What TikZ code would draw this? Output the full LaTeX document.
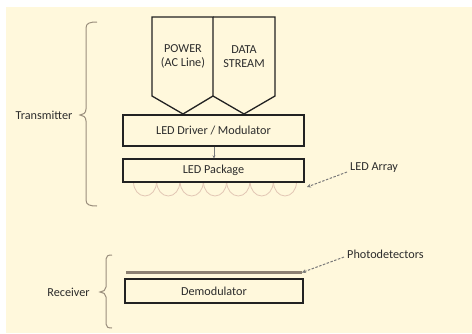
\documentclass[tikz,border=0pt]{standalone}
\usepackage{fontspec}
\setmainfont{Carlito}
\usetikzlibrary{arrows.meta}
\definecolor{cream}{HTML}{FFF8DC}
\definecolor{inkline}{HTML}{222222}
\definecolor{inktext}{HTML}{2C2C2C}
\definecolor{bracecol}{HTML}{9A8E7C}
\definecolor{domecol}{HTML}{E2C6B4}
\definecolor{pdcol}{HTML}{8C8072}
\definecolor{dashcol}{HTML}{7A7A7A}
\tikzset{
  box/.style={draw=inkline, line width=1.3pt, inner sep=0pt, text=inktext},
  lbl/.style={text=inktext, inner sep=0pt, font=\fontsize{12.2}{13.5}\selectfont},
  bracestyle/.style={draw=bracecol, line width=1pt},
  callout/.style={draw=dashcol, line width=1pt, dash pattern=on 2.5pt off 1.5pt, -{Stealth[length=4pt,width=4pt]}},
  dome/.style={draw=domecol, line width=0.8pt},
  pent/.style={draw=inkline, line width=1.3pt}
}
\begin{document}
\begin{tikzpicture}[x=1pt,y=-1pt]
\useasboundingbox (0,0) rectangle (472,333);
\fill[white] (0,0) rectangle (472,333);
\fill[cream] (6,7) rectangle (472,333);

% pentagons
\draw[pent] (152,17) -- (213,17) -- (213,96) -- (183,114) -- (152,96) -- cycle;
\draw[pent] (213,17) -- (275,17) -- (275,96) -- (244,114) -- (213,96);
\node[lbl, align=center] (power) at (183,56.5) {POWER\\(AC Line)};
\node[lbl, align=center] (data) at (244,56.5) {DATA\\STREAM};

% LED domes
\foreach \c in {145,168.3,191.7,215,238.3,261.7,285}{
  \draw[dome] (\c-11.5,182) arc[start angle=180, end angle=0, x radius=11.5, y radius=14];
}

% boxes
\node[box, lbl, minimum width=181pt, minimum height=31pt] (drv) at (213.5,130.5) {LED Driver / Modulator};
\node[box, lbl, minimum width=181pt, minimum height=23pt] (pkg) at (213.5,170.5) {LED Package};
\node[box, lbl, minimum width=178pt, minimum height=24pt] (demod) at (214,291) {Demodulator};

% small arrow between driver and package
\draw[draw=dashcol, line width=0.7pt, -{Stealth[length=3pt,width=3pt]}] (drv.south -| 214,0) -- (pkg.north -| 214,0);

% photodetector strip
\coordinate (pdl) at (126,272.5);
\coordinate (pdr) at (302,272.5);
\draw[draw=pdcol, line width=2.5pt] (pdl) -- (pdr);

% braces
\draw[bracestyle] (97,22) .. controls (90,22) and (86,23) .. (86,28) -- (86,109)
  .. controls (86,113) and (83,115) .. (80,115)
  .. controls (83,115) and (86,117) .. (86,121) -- (86,200)
  .. controls (86,205) and (90,206) .. (97,206);
\draw[bracestyle] (112,255) .. controls (108,255) and (106,256) .. (106,259) -- (106,287)
  .. controls (106,290) and (103,292) .. (100,292)
  .. controls (103,292) and (106,294) .. (106,297) -- (106,324)
  .. controls (106,327) and (108,328) .. (112,328);

% side labels
\node[lbl] (tx) at (44,115) {Transmitter};
\node[lbl] (rx) at (68.5,292) {Receiver};

% callouts
\node[lbl, anchor=west] (ledarr) at (350,168) {LED Array};
\node[lbl, anchor=west] (pd) at (347,254) {Photodetectors};
\coordinate (domeend) at (307,187);
\draw[callout] (ledarr.west) ++(-3,4) -- (domeend);
\draw[callout] (pd.west) ++(-3,3) -- (pdr);
\end{tikzpicture}
\end{document}
